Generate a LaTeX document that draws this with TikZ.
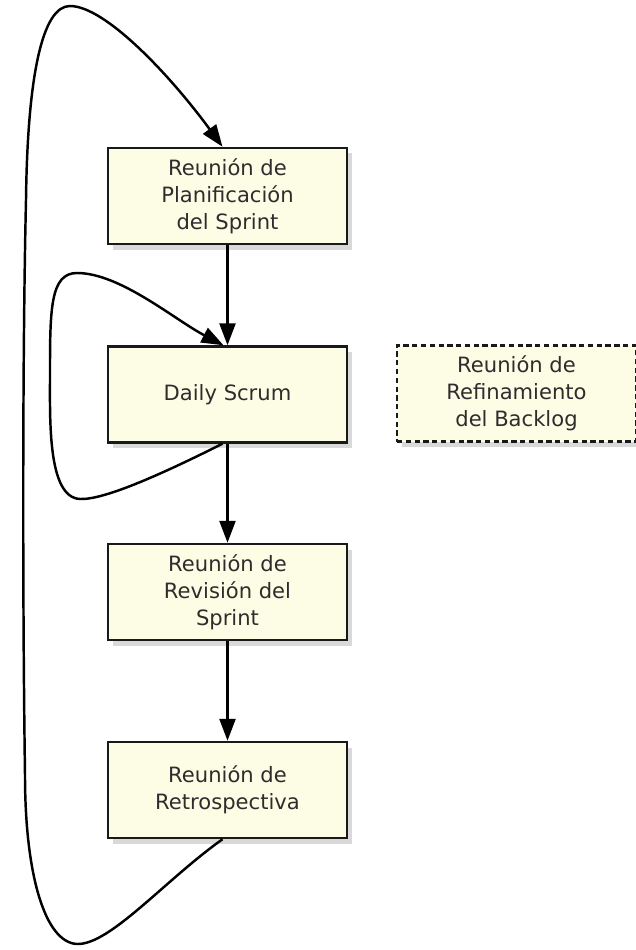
\documentclass[tikz,border=0pt]{standalone}
\usepackage{fontspec}
\setsansfont{DejaVu Sans}
\usepackage{tikz}
\usetikzlibrary{shapes, arrows.meta, positioning, shadows}
\definecolor{cream}{RGB}{253,252,228}
\definecolor{inkgray}{RGB}{45,45,45}

\begin{document}
\begin{tikzpicture}
  [
    >={Triangle[length=0.44cm, width=0.32cm]},
    Meeting/.style={rectangle, draw=black!90, fill=cream, line width=1.4pt,
      minimum width=4.78cm, minimum height=1.92cm, inner sep=0pt, align=center,
      text=inkgray, font=\sffamily\fontsize{12}{15.5}\selectfont,
      drop shadow={opacity=0.3, shadow xshift=0.09cm, shadow yshift=-0.11cm}},
    Optional/.style={Meeting, densely dashed}
  ]
  \useasboundingbox (0,0) rectangle (12.7,-19);
  % Nodes
  \node[Meeting] (plan) at(4.55, -3.92) {Reunión de\\Planificación\\del Sprint};
  \node[Meeting] (daily) at(4.55, -7.89) {Daily Scrum};
  \node[Meeting] (review) at(4.55, -11.84) {Reunión de\\Revisión del\\Sprint};
  \node[Meeting] (retro) at(4.55, -15.80) {Reunión de\\Retrospectiva};
  \node[Optional] (refine) at(10.33, -7.87) {Reunión de\\Refinamiento\\del Backlog};
  % Lines
  \path [->, draw, line width=1.4pt] (plan) -- (daily);
  \path [->, draw, line width=1.4pt] (daily) -- (review);
  \path [->, draw, line width=1.4pt] (review) -- (retro);
  \path [->, draw, line width=1.4pt] ([xshift=-0.1cm]daily.south)
    .. controls (3.3,-9.45) and (2.1,-10.0) .. (1.6,-9.98)
    .. controls (0.95,-9.95) and (1.0,-8.4) .. (1.0,-7.5)
    .. controls (1.0,-6.2) and (1.0,-5.46) .. (1.54,-5.46)
    .. controls (2.4,-5.46) and (3.5,-6.4) .. ([xshift=-0.08cm]daily.north);
  \path [->, draw, line width=1.4pt] ([xshift=-0.1cm]retro.south)
    .. controls (3.3,-17.6) and (2.2,-18.9) .. (1.54,-18.88)
    .. controls (0.9,-18.85) and (0.5,-17.5) .. (0.5,-15.5)
    .. controls (0.45,-12) and (0.45,-7) .. (0.52,-4)
    .. controls (0.55,-1.5) and (0.85,-0.12) .. (1.4,-0.12)
    .. controls (2.1,-0.12) and (3.4,-1.5) .. ([xshift=-0.1cm]plan.north);
\end{tikzpicture}
\end{document}
